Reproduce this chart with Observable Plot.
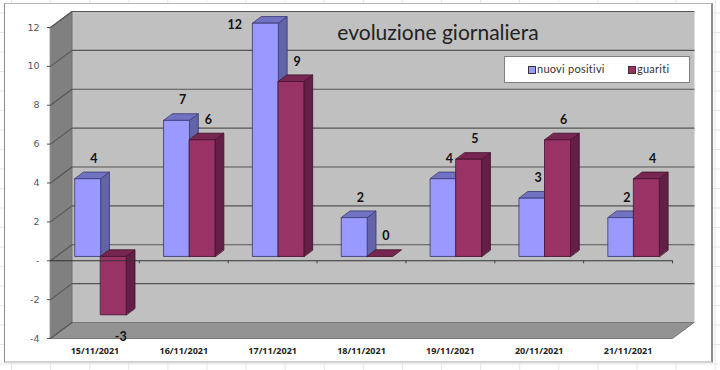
<!DOCTYPE html>
<html>
<head>
<meta charset="utf-8">
<script src="https://cdn.jsdelivr.net/npm/d3@7"></script>
<script src="https://cdn.jsdelivr.net/npm/@observablehq/plot@0.6"></script>
<style>
html,body{margin:0;padding:0;width:720px;height:370px;overflow:hidden;background-color:#fff;}
#sheet{position:absolute;left:0;top:0;width:720px;height:370px;
 background-image:linear-gradient(to right,#e6e6e6 1px,transparent 1px),linear-gradient(to bottom,#e6e6e6 1px,transparent 1px);
 background-size:39.1px 19.5px;background-position:11px 12.5px;}
#frame{position:absolute;left:4px;top:3px;width:706px;height:357px;background:#fff;
 border-left:1px solid #8c8c8c;border-top:1px solid #b8b8b8;border-right:2px solid #8c8c8c;border-bottom:2px solid #d2d2d2;}
#chart{position:absolute;left:0;top:0;}
#chart svg{background:transparent;display:block;}
#title{position:absolute;left:238px;width:400px;top:18px;text-align:center;font:21px Lato,sans-serif;color:#222;line-height:28px;}
#legend{position:absolute;left:504px;top:56px;width:183.5px;height:24.5px;background:#fff;border:1px solid #808080;font:11px Lato,sans-serif;color:#333;}
#legend span{position:absolute;top:5px;line-height:14px;white-space:nowrap;}
#legend i{position:absolute;top:9px;width:6px;height:6px;border:.5px solid #333;}
</style>
</head>
<body>
<div id="sheet"></div>
<div id="frame"></div>
<div id="chart"></div>
<div id="title">evoluzione giornaliera</div>
<div id="legend">
 <i style="left:23px;background:#9999ff"></i><span style="left:32px;letter-spacing:.25px">nuovi positivi</span>
 <i style="left:122.5px;background:#993366"></i><span style="left:132px;letter-spacing:.25px">guariti</span>
</div>
<script>
const dates = ["15/11/2021","16/11/2021","17/11/2021","18/11/2021","19/11/2021","20/11/2021","21/11/2021"];
const nuoviPositivi = [4,7,12,2,4,3,2];
const guariti = [-3,6,9,0,5,6,4];
const yTicks = [-4,-2,0,2,4,6,8,10,12];

// oblique projection of the 3D chart, expressed in scale units
const wallDX = 0.242, wallDY = 0.823;
const barDX = 0.099, barDY = 0.34;
const barW = 0.2875, barGap = 0.2125;
const xMax = dates.length, yMin = -4, yMax = 12;

const palette = {
  a:{front:"#9999ff",side:"#6363a8",top:"#7272c2",edge:"#3f3f78"},
  b:{front:"#993366",side:"#631f45",top:"#762650",edge:"#4a1530"}
};

function poly(list,id,fill,edge,pts){pts.forEach(([x,y])=>list.push({id,x,y,fill,edge}));}

const walls=[];
poly(walls,"back","#c0c0c0","#c0c0c0",[[wallDX,yMin+wallDY],[xMax+wallDX,yMin+wallDY],[xMax+wallDX,yMax+wallDY],[wallDX,yMax+wallDY]]);
poly(walls,"side","#808080","#707070",[[0,yMin],[wallDX,yMin+wallDY],[wallDX,yMax+wallDY],[0,yMax]]);
poly(walls,"floor","#939393","#777777",[[0,yMin],[xMax,yMin],[xMax+wallDX,yMin+wallDY],[wallDX,yMin+wallDY]]);

const grid=[];
yTicks.forEach(t=>{
  grid.push({id:t,x:0,y:t},{id:t,x:wallDX,y:t+wallDY});
  if(t>yMin) grid.push({id:t,x:xMax+wallDX,y:t+wallDY});
});

const faces=[];
dates.forEach((d,i)=>{
  [[nuoviPositivi[i],0,palette.a],[guariti[i],1,palette.b]].forEach(([v,s,c])=>{
    const x0=i+barGap+s*barW, x1=x0+barW, t=Math.max(v,0), b=Math.min(v,0), id=`${i}-${s}`;
    if(v!==0){
      poly(faces,id+"side",c.side,c.edge,[[x1,b],[x1,t],[x1+barDX,t+barDY],[x1+barDX,b+barDY]]);
    }
    poly(faces,id+"top",c.top,c.edge,[[x0,t],[x1,t],[x1+barDX,t+barDY],[x0+barDX,t+barDY]]);
    if(v!==0){
      poly(faces,id+"front",c.front,c.edge,[[x0,b],[x1,b],[x1,t],[x0,t]]);
    }
  });
});

const labels=[];
dates.forEach((d,i)=>{
  labels.push({x:i+barGap+barW/2,v:nuoviPositivi[i]});
  labels.push({x:i+barGap+barW*1.5,v:guariti[i]});
});
const isTallest=d=>d.v===d3.max(nuoviPositivi);
const common={x:"x",y:"v",text:d=>String(d.v),fontFamily:"Lato, sans-serif",fontWeight:700,fontSize:12.5,fill:"#111",frameAnchor:"middle"};

const axisBars={dx:5.7,dy:-4.3};

const plot=Plot.plot({
  width:720,height:370,
  marginLeft:50,marginRight:48,marginTop:27,marginBottom:32,
  style:{background:"transparent",overflow:"visible"},
  x:{type:"linear",domain:[0,xMax]},
  y:{type:"linear",domain:[yMin,yMax]},
  color:{type:"identity"},
  marks:[
    Plot.line(walls,{x:"x",y:"y",z:"id",fill:"fill",stroke:"edge",curve:"linear-closed",strokeWidth:1}),
    Plot.line(grid,{x:"x",y:"y",z:"id",stroke:"#555555",strokeWidth:1.2}),
    Plot.axisY({ticks:yTicks,tickFormat:d=>d===0?"-":String(d),tickSize:3,tickPadding:8,label:null,
      fontFamily:"'DejaVu Sans', sans-serif",fontSize:9.5,color:"#555"}),
    Plot.axisX({ticks:dates.map((d,i)=>i+0.5),tickFormat:v=>dates[Math.floor(v)],tickSize:0,tickPadding:9,label:null,
      fontFamily:"'Open Sans', sans-serif",fontWeight:700,fontSize:9,color:"#222"}),
    Plot.line(faces,{x:"x",y:"y",z:"id",fill:"fill",stroke:"edge",curve:"linear-closed",strokeWidth:.9,...axisBars}),
    Plot.ruleY([0],{x1:0,x2:xMax,stroke:"#333",strokeWidth:1}),
    Plot.ruleX(d3.range(1,xMax+1),{y1:0,y2:-0.16,stroke:"#444",strokeWidth:1}),
    Plot.text(labels.filter(d=>d.v>=0&&!isTallest(d)),{...common,dx:11.7,dy:-24.3}),
    Plot.text(labels.filter(isTallest),{...common,dx:-25,dy:-3}),
    Plot.text(labels.filter(d=>d.v<0),{...common,dx:13,dy:18})
  ]
});
document.getElementById("chart").appendChild(plot);
</script>
</body>
</html>
